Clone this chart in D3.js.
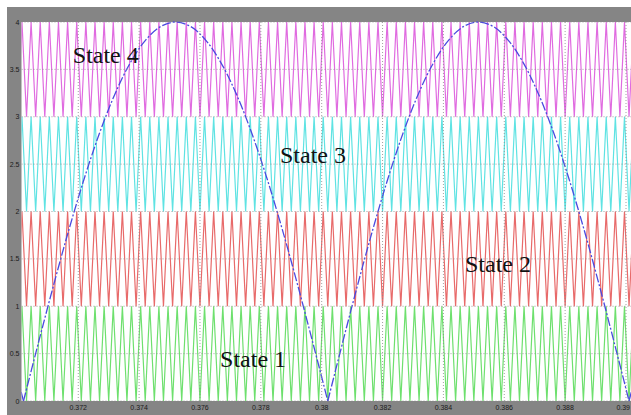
<!DOCTYPE html>
<html>
<head>
<meta charset="utf-8">
<script src="https://cdn.jsdelivr.net/npm/d3@7"></script>
<style>
html,body{margin:0;padding:0;background:#fff;overflow:hidden;}
svg{display:block;}
</style>
</head>
<body>
<svg id="chart" width="631" height="415"></svg>
<script>
// ---- data ----
const xTicks = [0.372,0.374,0.376,0.378,0.38,0.382,0.384,0.386,0.388,0.39];
const xTickLabels = ["0.372","0.374","0.376","0.378","0.38","0.382","0.384","0.386","0.388","0.39"];
const yTicks = [0,0.5,1,1.5,2,2.5,3,3.5,4];
const yTickLabels = ["0","0.5","1","1.5","2","2.5","3","3.5","4"];

// level-shifted carriers (all in phase): band lower/upper levels
const bandNames = ["State 1","State 2","State 3","State 4"];
const bandLow  = [0,1,2,3];
const bandHigh = [1,2,3,4];
const bandColors = ["#6ee06e","#e86a6a","#5fe3e3","#e06be0"];

// carrier vertex times (low at even index, high at odd index)
const carrierTimes = [
0.37000,0.37015,0.37030,0.37045,0.37060,0.37075,0.37090,0.37105,0.37120,0.37135,
0.37150,0.37165,0.37180,0.37195,0.37210,0.37225,0.37240,0.37255,0.37270,0.37285,
0.37300,0.37315,0.37330,0.37345,0.37360,0.37375,0.37390,0.37405,0.37420,0.37435,
0.37450,0.37465,0.37480,0.37495,0.37510,0.37525,0.37540,0.37555,0.37570,0.37585,
0.37600,0.37615,0.37630,0.37645,0.37660,0.37675,0.37690,0.37705,0.37720,0.37735,
0.37750,0.37765,0.37780,0.37795,0.37810,0.37825,0.37840,0.37855,0.37870,0.37885,
0.37900,0.37915,0.37930,0.37945,0.37960,0.37975,0.37990,0.38005,0.38020,0.38035,
0.38050,0.38065,0.38080,0.38095,0.38110,0.38125,0.38140,0.38155,0.38170,0.38185,
0.38200,0.38215,0.38230,0.38245,0.38260,0.38275,0.38290,0.38305,0.38320,0.38335,
0.38350,0.38365,0.38380,0.38395,0.38410,0.38425,0.38440,0.38455,0.38470,0.38485,
0.38500,0.38515,0.38530,0.38545,0.38560,0.38575,0.38590,0.38605,0.38620,0.38635,
0.38650,0.38665,0.38680,0.38695,0.38710,0.38725,0.38740,0.38755,0.38770,0.38785,
0.38800,0.38815,0.38830,0.38845,0.38860,0.38875,0.38890,0.38905,0.38920,0.38935,
0.38950,0.38965,0.38980,0.38995,0.39010,0.39025
];

// rectified sine reference, read as arches between zero crossings
const refArch0T = [0.37000,0.37020];
const refArch0V = [0.25,0];
const refArch1T = [0.37020,0.37070,0.37120,0.37170,0.37220,0.37270,0.37320,0.37370,0.37420,0.37470,0.37520,
                   0.37570,0.37620,0.37670,0.37720,0.37770,0.37820,0.37870,0.37920,0.37970,0.38020];
const refArch1V = [0,0.626,1.236,1.816,2.351,2.828,3.236,3.564,3.804,3.951,4.0,
                   3.951,3.804,3.564,3.236,2.828,2.351,1.816,1.236,0.626,0];
const refArch2T = [0.380200,0.380695,0.381190,0.381685,0.382180,0.382675,0.383170,0.383665,0.384160,0.384655,0.385150,
                   0.385645,0.386140,0.386635,0.387130,0.387625,0.388120,0.388615,0.389110,0.389605,0.390100];
const refArch2V = [0,0.626,1.236,1.816,2.351,2.828,3.236,3.564,3.804,3.951,4.0,
                   3.951,3.804,3.564,3.236,2.828,2.351,1.816,1.236,0.626,0];
const refArch3T = [0.39010,0.39030];
const refArch3V = [0,0.25];

const stateLabelX = [0.37666,0.38471,0.37863,0.37182];
const stateLabelY = [0.36,1.365,2.509,3.57];

// ---- layout ----
const svg = d3.select("#chart");
const W = 631, H = 415;
const plotL = 21.5, plotT = 22, plotR = 631, plotB = 401;

const x = d3.scaleLinear().domain([0.37,0.39]).range([17.4,626]);
const y = d3.scaleLinear().domain([0,4]).range([plotB,plotT]);

// frame
svg.append("rect").attr("x",0).attr("y",0).attr("width",W).attr("height",H).attr("fill","#ffffff");
svg.append("rect").attr("x",7).attr("y",7).attr("width",W-7).attr("height",H-7).attr("fill","#858585");
svg.append("rect").attr("x",plotL).attr("y",plotT).attr("width",plotR-plotL).attr("height",plotB-plotT).attr("fill","#ffffff");

const defs = svg.append("defs");
defs.append("clipPath").attr("id","clip").append("rect")
  .attr("x",plotL).attr("y",plotT-1).attr("width",plotR-plotL).attr("height",plotB-plotT+2);

const g = svg.append("g").attr("clip-path","url(#clip)");

// carriers
const line = d3.line().x(d=>x(d[0])).y(d=>y(d[1]));
bandLow.forEach((lo,i)=>{
  const hi = bandHigh[i];
  const pts = carrierTimes.map((t,k)=>[t, k%2===0 ? lo : hi]);
  g.append("path").attr("d",line(pts)).attr("fill","none")
   .attr("stroke",bandColors[i]).attr("stroke-width",1.2);
});

// grid
const grid = svg.append("g").attr("clip-path","url(#clip)");
yTicks.forEach(v=>{
  grid.append("line").attr("x1",plotL).attr("x2",plotR).attr("y1",y(v)).attr("y2",y(v))
    .attr("stroke","#8a8a8a").attr("stroke-width",0.8).attr("stroke-dasharray","1,2");
});
xTicks.forEach(v=>{
  grid.append("line").attr("x1",x(v)).attr("x2",x(v)).attr("y1",plotT).attr("y2",plotB)
    .attr("stroke","#8a8a8a").attr("stroke-width",0.8).attr("stroke-dasharray","1,2");
});

// reference
const refLine = d3.line().x(d=>x(d[0])).y(d=>y(d[1])).curve(d3.curveCatmullRom);
[[refArch0T,refArch0V],[refArch1T,refArch1V],[refArch2T,refArch2V],[refArch3T,refArch3V]].forEach(([T,V])=>{
  g.append("path").attr("d",refLine(T.map((t,k)=>[t,V[k]]))).attr("fill","none")
   .attr("stroke","#4a4ae0").attr("stroke-width",1.3).attr("stroke-dasharray","9,2,2,2");
});

// axes labels
yTicks.forEach((v,i)=>{
  svg.append("text").attr("x",19.5).attr("y",y(v)+2.5).attr("text-anchor","end")
    .attr("font-family","Liberation Sans, Arial, sans-serif").attr("font-size",7)
    .attr("fill","#1a1a1a").text(yTickLabels[i]);
});
xTicks.forEach((v,i)=>{
  const last = i === xTicks.length-1;
  svg.append("text").attr("x",last ? 630 : x(v)).attr("y",410)
    .attr("text-anchor",last ? "end" : "middle")
    .attr("font-family","Liberation Sans, Arial, sans-serif").attr("font-size",7)
    .attr("fill","#1a1a1a").text(xTickLabels[i]);
});

// state labels
bandNames.forEach((n,i)=>{
  svg.append("text").attr("x",x(stateLabelX[i])).attr("y",y(stateLabelY[i]))
    .attr("font-family","Liberation Serif, Times New Roman, serif").attr("font-size",24)
    .attr("fill","#111").text(n);
});
</script>
</body>
</html>
